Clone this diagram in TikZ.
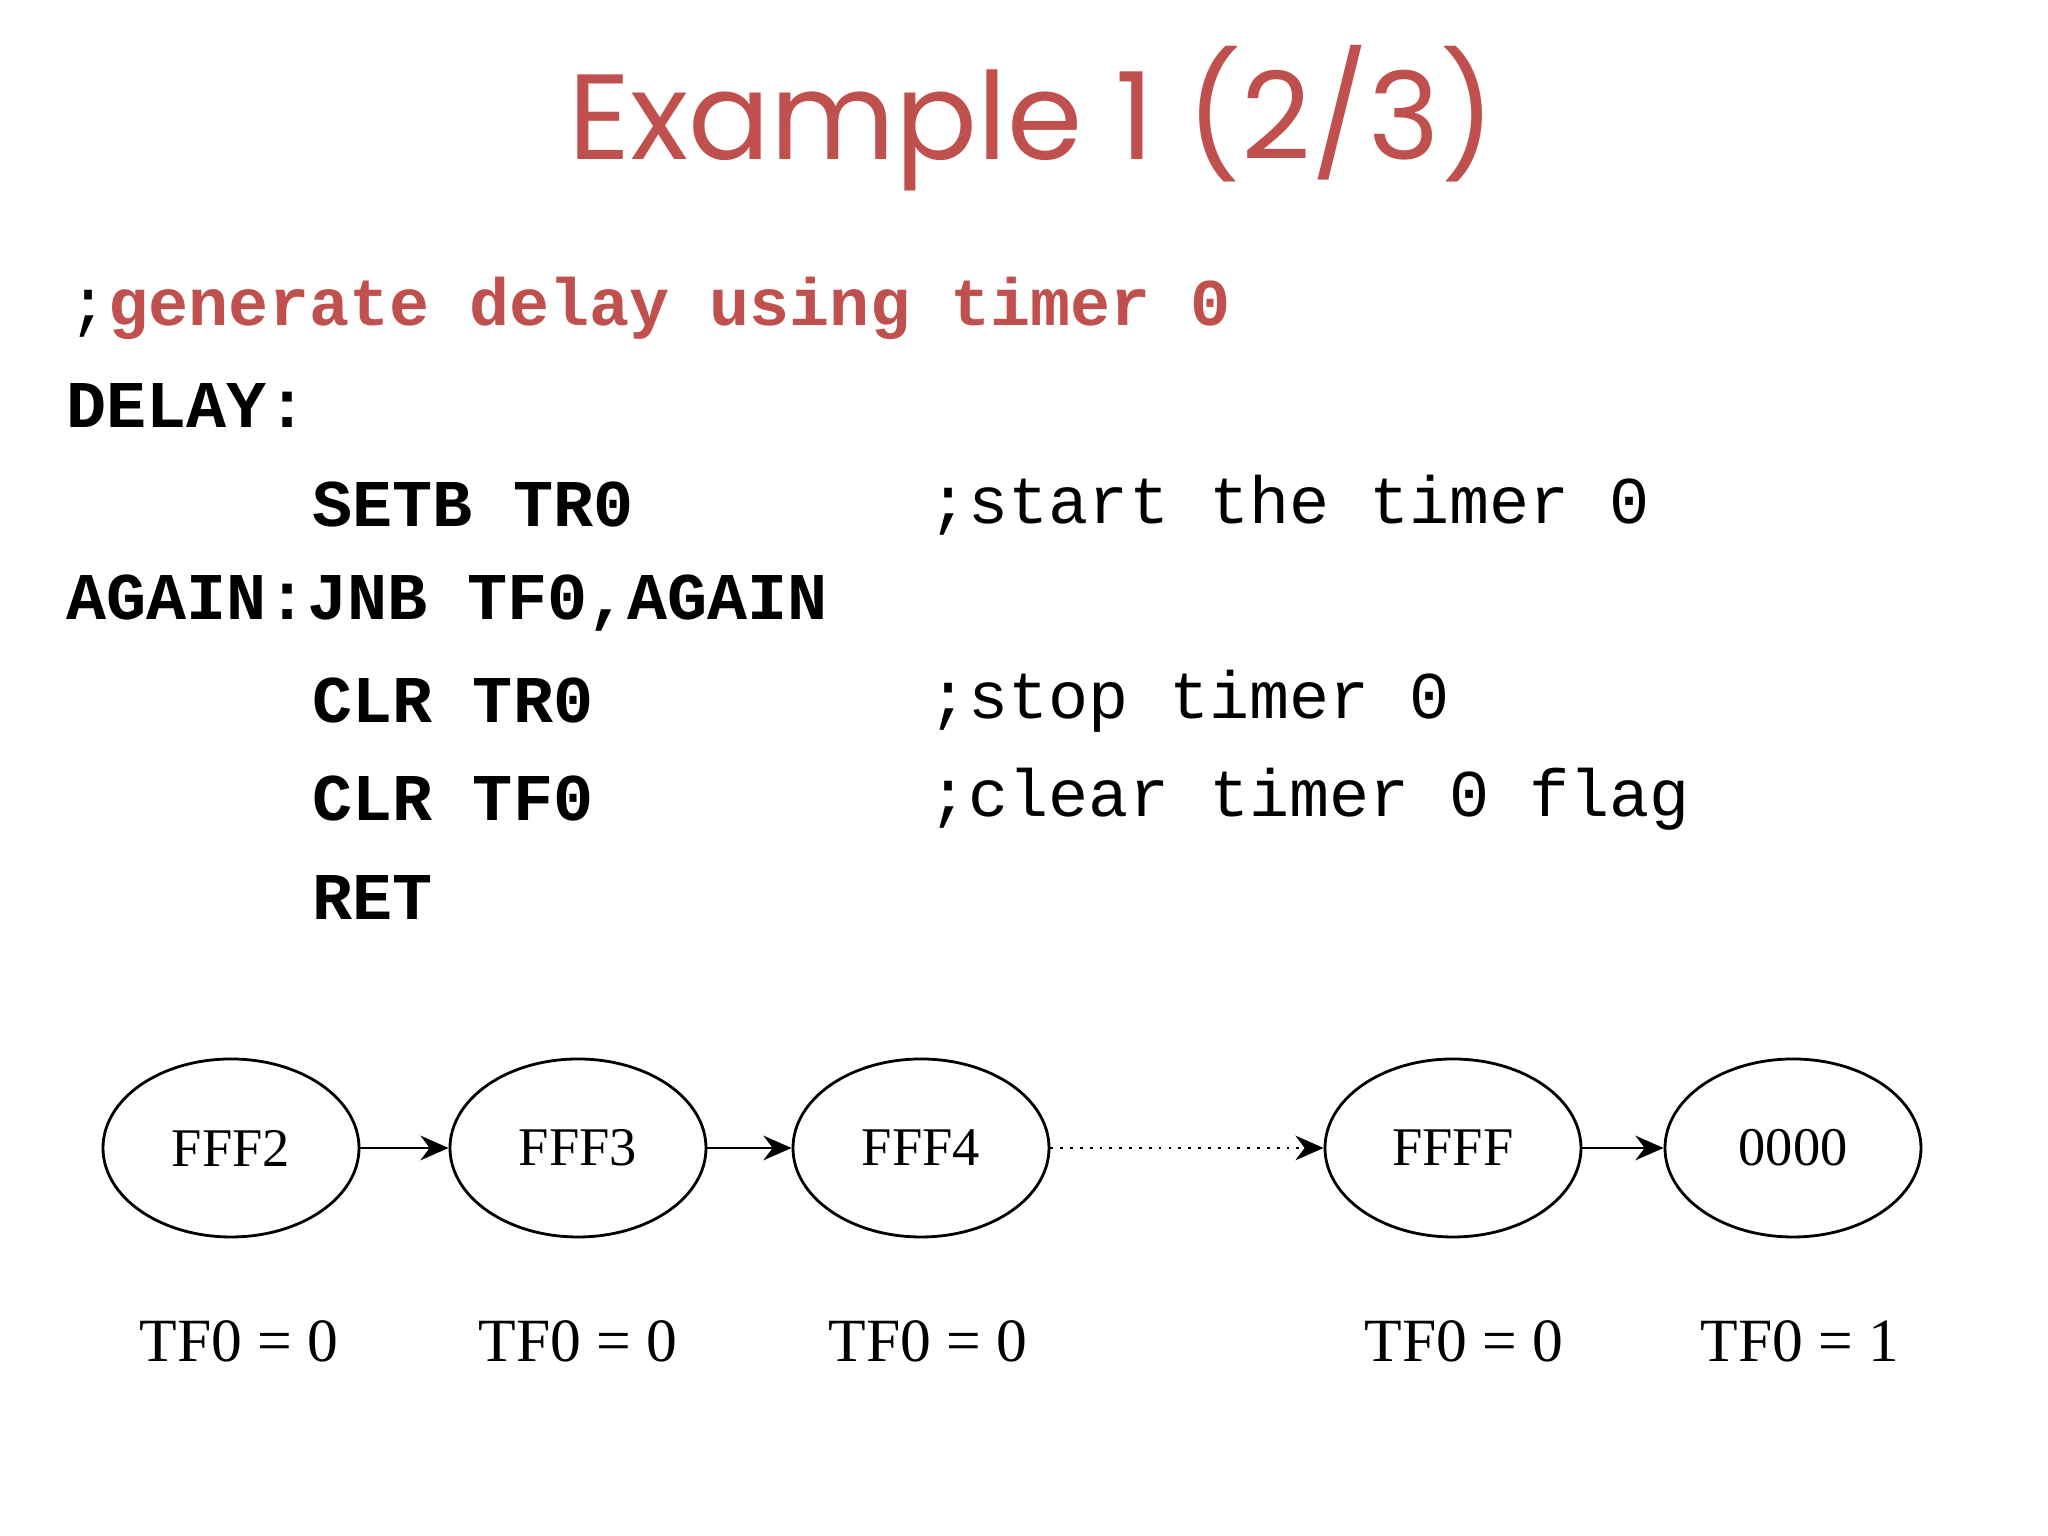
\documentclass[tikz,border=0pt]{standalone}
\usepackage{fontspec}
\setmainfont{Liberation Serif}
\setmonofont{Liberation Mono}
\newfontfamily\titlefont{Poppins}
\usetikzlibrary{arrows.meta,shapes.geometric}
\definecolor{slidered}{HTML}{C0504D}
\tikzset{
  state/.style={ellipse,draw,thick,minimum width=2.56cm,minimum height=1.78cm,font=\fontsize{15.5}{18}\selectfont},
  flag/.style={font=\fontsize{17.5}{21}\selectfont},
  code/.style={anchor=west,inner sep=0pt,font=\fontsize{19}{22}\selectfont\ttfamily\bfseries},
  remark/.style={anchor=west,inner sep=0pt,font=\fontsize{19}{22}\selectfont\ttfamily}
}
\begin{document}
\begin{tikzpicture}
  \useasboundingbox (0,0) rectangle (20.48,15.36);
  \node[text=slidered,font=\fontsize{34.5}{40}\selectfont\titlefont] (title) at (10.32,14.18) {Example 1 (2/3)};

  % code listing
  \node[remark] (c0) at (0.68,12.28) {;\textcolor{slidered}{\bfseries generate delay using timer 0}};
  \node[code] (l1) at (0.66,11.30) {DELAY:};
  \node[code] (l2) at (3.12,10.31) {SETB TR0};
  \node[remark] (c2) at (9.28,10.31) {;start the timer 0};
  \node[code] (l3) at (0.66,9.33) {AGAIN:JNB TF0,AGAIN};
  \node[code] (l4) at (3.12,8.35) {CLR TR0};
  \node[remark] (c4) at (9.28,8.35) {;stop timer 0};
  \node[code] (l5) at (3.12,7.37) {CLR TF0};
  \node[remark] (c5) at (9.28,7.37) {;clear timer 0 flag};
  \node[code] (l6) at (3.12,6.38) {RET};

  % counter states
  \begin{scope}[every node/.style={state}]
    \node (s1) at (2.31,3.88) {FFF2};
    \node (s2) at (5.78,3.88) {FFF3};
    \node (s3) at (9.21,3.88) {FFF4};
    \node (s4) at (14.53,3.88) {FFFF};
    \node (s5) at (17.93,3.88) {0000};
  \end{scope}
  \begin{scope}[every node/.style={flag}]
    \node (f1) at (2.39,1.95) {TF0 = 0};
    \node (f2) at (5.78,1.95) {TF0 = 0};
    \node (f3) at (9.28,1.95) {TF0 = 0};
    \node (f4) at (14.64,1.95) {TF0 = 0};
    \node (f5) at (18.00,1.95) {TF0 = 1};
  \end{scope}
  \begin{scope}[>={Stealth[length=8pt,width=7pt]}, thick]
    \draw[->] (s1) -- (s2);
    \draw[->] (s2) -- (s3);
    \draw[->,dotted] (s3) -- (s4);
    \draw[->] (s4) -- (s5);
  \end{scope}
\end{tikzpicture}
\end{document}
